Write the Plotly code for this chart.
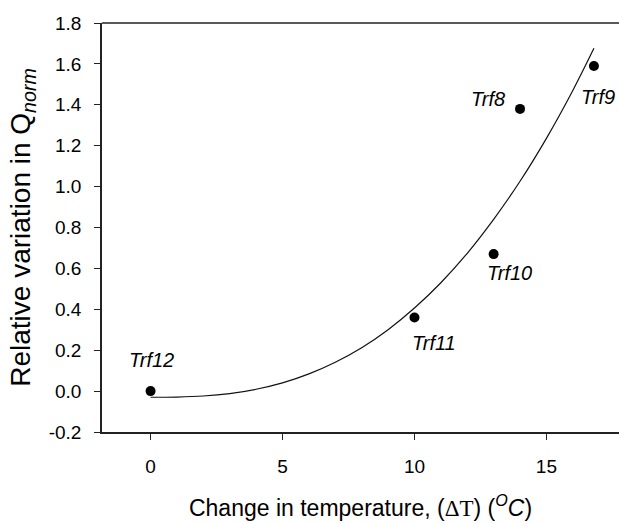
import plotly.graph_objects as go

# Data points
names = ["Trf12", "Trf11", "Trf10", "Trf8", "Trf9"]
delta_t = [0, 10, 13, 14, 16.8]
q_var = [0.0, 0.36, 0.67, 1.38, 1.59]

# Fitted curve
curve_x = [0, 1, 2, 3, 4, 5, 6, 7, 8, 9, 10, 11, 12, 13, 14, 15, 16, 16.8]
curve_y = [-0.03, -0.029, -0.024, -0.012, 0.009, 0.040, 0.084, 0.141, 0.212,
           0.300, 0.406, 0.530, 0.674, 0.840, 1.026, 1.236, 1.470, 1.676]

x_ticks = [0, 5, 10, 15]
y_ticks = [-0.2, 0.0, 0.2, 0.4, 0.6, 0.8, 1.0, 1.2, 1.4, 1.6, 1.8]
y_tick_text = ["-0.2", "0.0", "0.2", "0.4", "0.6", "0.8", "1.0", "1.2", "1.4", "1.6", "1.8"]

# label offsets (pixels) for each point label
label_dx = [1, 20, 16, -32, 4]
label_dy = [-31, 26, 19, -10, 31]

fig = go.Figure()
fig.add_trace(go.Scatter(x=curve_x, y=curve_y, mode="lines", line_shape="spline",
                         line=dict(color="#111111", width=1.2), hoverinfo="skip"))
fig.add_trace(go.Scatter(x=delta_t, y=q_var, mode="markers",
                         marker=dict(color="black", size=10)))

for n, x, y, dx, dy in zip(names, delta_t, q_var, label_dx, label_dy):
    fig.add_annotation(x=x, y=y, text="<i>" + n + "</i>", showarrow=False,
                       xshift=dx, yshift=-dy,
                       font=dict(family="Liberation Sans, Arial", size=20, color="black"))

# top border line
fig.add_shape(type="line", xref="paper", yref="paper", x0=0, x1=1, y0=1, y1=1,
              line=dict(color="#222222", width=1.5))

fig.update_layout(
    width=619, height=524,
    margin=dict(l=102, r=0, t=23, b=92),
    paper_bgcolor="white", plot_bgcolor="white",
    showlegend=False,
    font=dict(family="Liberation Sans, Arial", size=19, color="black"),
)
fig.update_xaxes(range=[-1.84, 17.75], tickvals=x_ticks, ticks="outside", ticklen=6,
                 tickcolor="#222222", showline=True, linecolor="#222222", linewidth=1.5,
                 showgrid=False, zeroline=False, tickfont=dict(size=19), automargin=False,
                 ticklabelstandoff=10,
                 title=dict(text="Change in temperature, (<span style='font-family:Liberation Serif, Times New Roman'>ΔT</span>) (<sup><i>O</i></sup><i>C</i>)",
                            font=dict(size=23), standoff=24))
fig.update_yaxes(range=[-0.2, 1.8], tickvals=y_ticks, ticktext=y_tick_text, ticks="outside",
                 ticklen=6, tickcolor="#222222", showline=True, linecolor="#222222",
                 linewidth=1.5, showgrid=False, zeroline=False, tickfont=dict(size=19),
                 automargin=False, ticklabelstandoff=9,
                 title=dict(text="Relative variation in Q<sub><i>norm</i></sub>",
                            font=dict(size=28), standoff=10))

fig.write_html("out.html", config={"displayModeBar": False},
               post_script="document.body.style.margin='0px';document.body.style.overflow='hidden';")
